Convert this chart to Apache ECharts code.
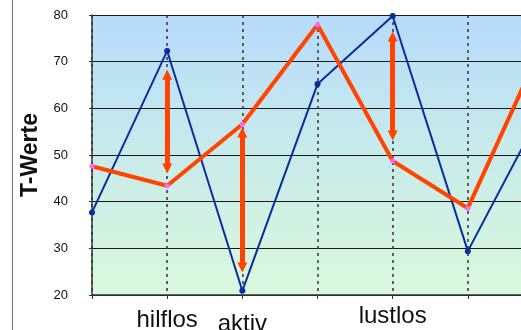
<!DOCTYPE html>
<html>
<head>
<meta charset="utf-8">
<script src="https://cdn.jsdelivr.net/npm/echarts@6/dist/echarts.min.js"></script>
<style>
  html, body { margin: 0; padding: 0; background: #fff; }
  #main { width: 521px; height: 330px; }
</style>
</head>
<body>
<div id="main"></div>
<script>
// categories (only three labels are readable in the picture)
var categories = ['', 'hilflos', 'aktiv', '', 'lustlos', '', ''];
var yTicks = [20, 30, 40, 50, 60, 70, 80];

// T-values of the two profiles
var blueValues = [37.7, 72.3, 20.9, 65.2, 79.8, 29.4, 60];
var orangeValues = [47.6, 43.4, 56.6, 77.9, 48.7, 38.6, 74];

// double-headed arrows: [category index, top value, bottom value]
var arrows = [
    [1, 67.2, 47.1],
    [2, 54.8, 25.9],
    [4, 75.4, 54.2]
];

var myChart = echarts.init(document.getElementById('main'));

var arrowData = arrows.map(function (a) {
    return [{ coord: [a[0], a[1]] }, { coord: [a[0], a[2]] }];
});

var option = {
    animation: false,
    textStyle: { fontFamily: 'Liberation Sans, Arial, sans-serif' },
    graphic: [{
        type: 'line',
        shape: { x1: 12.5, y1: 0, x2: 12.5, y2: 330 },
        style: { stroke: '#6e6e6e', lineWidth: 1 }
    }],
    grid: {
        left: 92,
        top: 15,
        bottom: 35,
        right: -22,
        outerBoundsMode: 'none',
        containLabel: false,
        show: true,
        borderWidth: 0,
        backgroundColor: {
            type: 'linear', x: 0, y: 0, x2: 0, y2: 1,
            colorStops: [
                { offset: 0, color: '#b7dbfb' },
                { offset: 0.5, color: '#c8ebea' },
                { offset: 1, color: '#daf8dc' }
            ]
        }
    },
    xAxis: {
        type: 'category',
        boundaryGap: false,
        data: categories,
        axisLine: { lineStyle: { color: '#333', width: 1.5 } },
        axisTick: { show: true, length: 4, lineStyle: { color: '#333' } },
        splitLine: {
            show: true,
            lineStyle: { color: '#333', width: 1.5, type: [3, 4] }
        },
        axisLabel: {
            interval: 0,
            margin: 9,
            color: '#111',
            fontSize: 24,
            formatter: function (v, i) {
                return v ? '{l' + i + '|' + v + '}' : '';
            },
            rich: {
                l1: { fontSize: 24, padding: [4, 0, 0, 0] },
                l2: { fontSize: 24, padding: [8, 0, 0, 0] },
                l4: { fontSize: 24, padding: [0, 0, 0, 0] }
            }
        }
    },
    yAxis: {
        type: 'value',
        min: yTicks[0],
        max: yTicks[yTicks.length - 1],
        interval: 10,
        name: 'T-Werte',
        nameLocation: 'middle',
        nameGap: 49,
        nameTextStyle: { fontSize: 23, fontWeight: 'bold', color: '#111' },
        axisLine: { show: true, lineStyle: { color: '#333', width: 1.5 } },
        axisTick: { show: true, length: 3, lineStyle: { color: '#333' } },
        splitLine: { lineStyle: { color: '#1a1a1a', width: 1.2 } },
        axisLabel: { color: '#111', fontSize: 13, margin: 24 }
    },
    series: [
        {
            name: 'blue',
            type: 'line',
            data: blueValues,
            symbol: 'circle',
            symbolSize: 6,
            lineStyle: { color: '#0a2d9c', width: 2 },
            itemStyle: { color: '#0a2d9c' },
            z: 3
        },
        {
            name: 'orange',
            type: 'line',
            data: orangeValues,
            symbol: 'circle',
            symbolSize: 5,
            lineStyle: { color: '#ff4400', width: 4 },
            itemStyle: { color: '#ff66ff' },
            z: 4,
            markLine: {
                silent: true,
                symbol: ['triangle', 'triangle'],
                symbolSize: [10, 10],
                label: { show: false },
                lineStyle: { color: '#ff4400', width: 5, type: 'solid' },
                itemStyle: { color: '#ff4400' },
                data: arrowData
            }
        }
    ]
};

myChart.setOption(option);
</script>
</body>
</html>
